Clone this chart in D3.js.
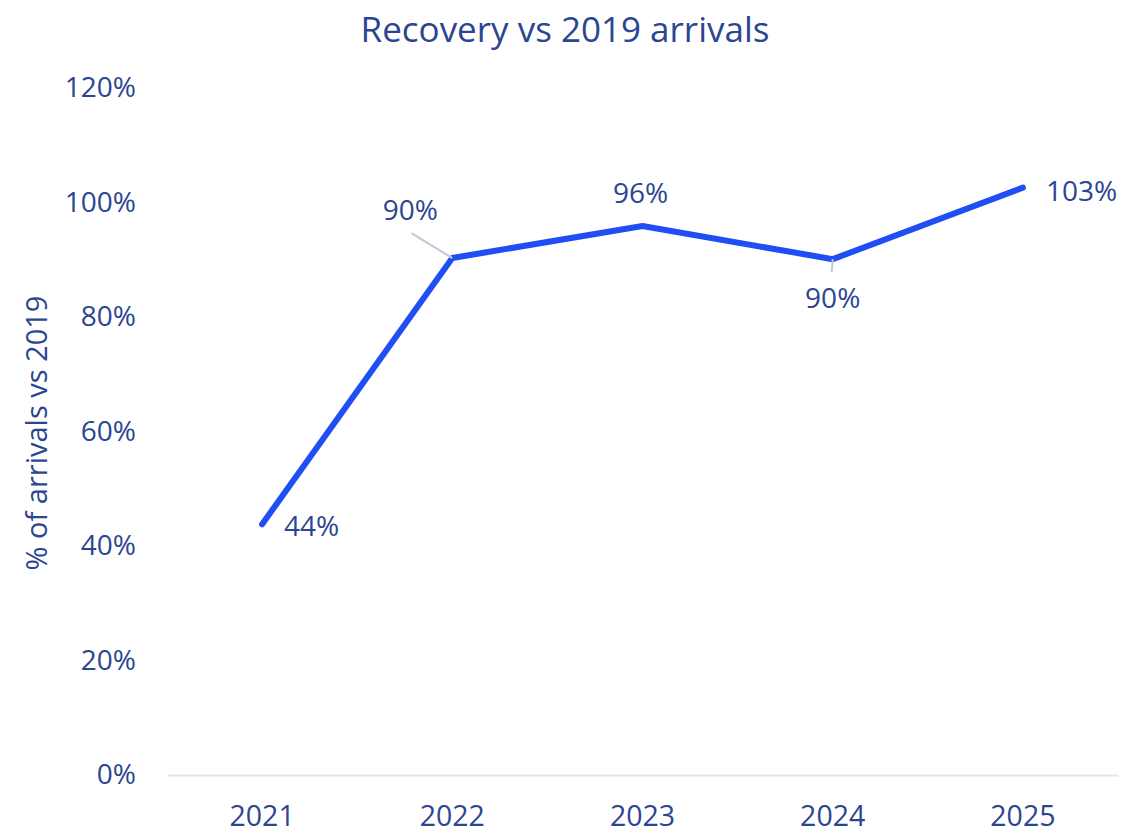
<!DOCTYPE html>
<html>
<head>
<meta charset="utf-8">
<script src="https://cdn.jsdelivr.net/npm/d3@7"></script>
<style>
  body { margin: 0; background: #fff; }
  text { font-family: "Open Sans", "Noto Sans", sans-serif; fill: #2b4593; }
</style>
</head>
<body>
<div id="chart"></div>
<script>
// ====== data ======
var years = ["2021", "2022", "2023", "2024", "2025"];
var recovery = [43.8, 90.3, 95.9, 90.1, 102.6];
var valueLabels = ["44%", "90%", "96%", "90%", "103%"];
var yTicks = [0, 20, 40, 60, 80, 100, 120];

// ====== chart setup ======
var svgWidth = 1127;
var svgHeight = 832;
var margin = { top: 88, right: 9, bottom: 57, left: 167 };
var width = svgWidth - margin.left - margin.right;
var height = svgHeight - margin.top - margin.bottom;

var svg = d3.select("#chart").append("svg")
  .attr("width", svgWidth)
  .attr("height", svgHeight);

var chartGroup = svg.append("g")
  .attr("transform", `translate(${margin.left}, ${margin.top})`);

var xScale = d3.scaleBand().domain(years).range([0, width]);
var yScale = d3.scaleLinear().domain([0, 120]).range([height, 0]);
var xPos = d => xScale(d) + xScale.bandwidth() / 2;

// title
svg.append("text")
  .attr("x", 565)
  .attr("y", 42)
  .attr("text-anchor", "middle")
  .style("font-size", "35px")
  .text("Recovery vs 2019 arrivals");

// y axis (labels only)
var leftAxis = d3.axisLeft(yScale)
  .tickValues(yTicks)
  .tickSize(0)
  .tickPadding(31)
  .tickFormat(d => d + "%");
var yAxisG = chartGroup.append("g").call(leftAxis);
yAxisG.select(".domain").remove();
yAxisG.selectAll("text").style("font-size", "28px").attr("fill", "#2b4593");

// x axis
var bottomAxis = d3.axisBottom(xScale).tickSize(0).tickPadding(31);
var xAxisG = chartGroup.append("g")
  .attr("transform", `translate(0, ${height})`)
  .call(bottomAxis);
xAxisG.select(".domain").attr("stroke", "#e1e5ec").attr("stroke-width", 2);
xAxisG.selectAll("text").style("font-size", "28.5px").attr("fill", "#2b4593");

// y axis title
svg.append("text")
  .attr("transform", "rotate(-90)")
  .attr("x", -433)
  .attr("y", 47)
  .attr("text-anchor", "middle")
  .style("font-size", "29px")
  .text("% of arrivals vs 2019");

// line
var line = d3.line()
  .x((d, i) => xPos(years[i]))
  .y(d => yScale(d));

chartGroup.append("path")
  .datum(recovery)
  .attr("fill", "none")
  .attr("stroke", "#1f4ef5")
  .attr("stroke-width", 6)
  .attr("stroke-linecap", "round")
  .attr("stroke-linejoin", "round")
  .attr("d", line);

// label placement offsets relative to each point
var labelOffsets = [
  { dx: 22, dy: 12, anchor: "start" },
  { dx: -42, dy: -38, anchor: "middle", lx: -41, ly: -25 },
  { dx: -2, dy: -23, anchor: "middle" },
  { dx: 0, dy: 49, anchor: "middle", lx: -1, ly: 13 },
  { dx: 23, dy: 13, anchor: "start" }
];

var labels = chartGroup.append("g");
recovery.forEach(function(v, i) {
  var px = xPos(years[i]);
  var py = yScale(v);
  var o = labelOffsets[i];
  if (o.lx !== undefined) {
    labels.append("line")
      .attr("x1", px).attr("y1", py)
      .attr("x2", px + o.lx).attr("y2", py + o.ly)
      .attr("stroke", "#c3c8d8")
      .attr("stroke-width", 2);
  }
  labels.append("text")
    .attr("x", px + o.dx)
    .attr("y", py + o.dy)
    .attr("text-anchor", o.anchor)
    .style("font-size", "28px")
    .text(valueLabels[i]);
});
</script>
</body>
</html>
